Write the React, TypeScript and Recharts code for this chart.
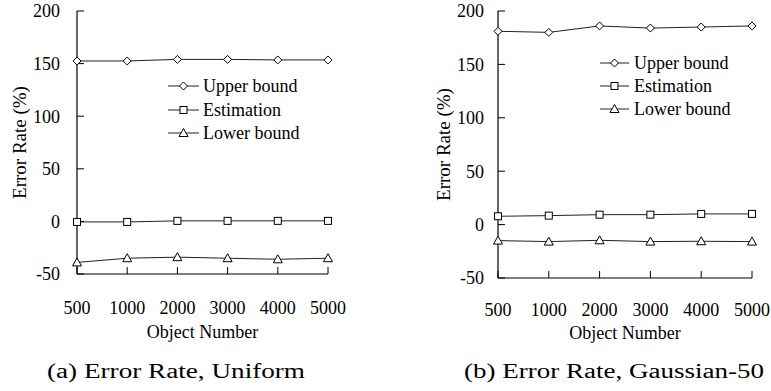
import { Legend, Line, LineChart, XAxis, YAxis } from "recharts";

const objectNumbers = ["500", "1000", "2000", "3000", "4000", "5000"];
const yTicks = [-50, 0, 50, 100, 150, 200];

const uniformUpper = [152.5, 152.5, 154, 154, 153.5, 153.5];
const uniformEstimation = [-0.5, -0.5, 0.5, 0.5, 0.5, 0.5];
const uniformLower = [-39, -35, -34, -35, -36, -35];

const gaussianUpper = [181, 180, 186, 184, 185, 186];
const gaussianEstimation = [7.8, 8.4, 9.3, 9.3, 10, 10];
const gaussianLower = [-15, -15.9, -14.7, -15.9, -15.6, -15.9];

const seriesNames = ["Upper bound", "Estimation", "Lower bound"];
const captions = ["(a) Error Rate, Uniform", "(b) Error Rate, Gaussian-50"];

const FONT = "Liberation Serif";
const INK = "#000";
const LINE = "#222";

function buildRows(upper: number[], est: number[], lower: number[]) {
  return objectNumbers.map((n, i) => ({ n, upper: upper[i], est: est[i], lower: lower[i] }));
}

type Shape = "diamond" | "square" | "triangle";

function Marker({ shape, cx, cy }: { shape: Shape; cx: number; cy: number }) {
  const p = { fill: "#fff", stroke: INK, strokeWidth: 1 };
  if (shape === "diamond") {
    return <path d={`M${cx},${cy - 4}L${cx + 4},${cy}L${cx},${cy + 4}L${cx - 4},${cy}Z`} {...p} />;
  }
  if (shape === "square") {
    return <rect x={cx - 3.5} y={cy - 3.5} width={7} height={7} {...p} />;
  }
  return <path d={`M${cx},${cy - 4.5}L${cx + 4.5},${cy + 3.5}L${cx - 4.5},${cy + 3.5}Z`} {...p} />;
}

const dotFor = (shape: Shape) => (props: any) => {
  const { cx, cy, index } = props;
  if (cx == null || cy == null) return <g key={index} />;
  return <Marker key={index} shape={shape} cx={cx} cy={cy} />;
};

const shapes: Shape[] = ["diamond", "square", "triangle"];

function LegendBox({ lineX1, lineX2, textX, rowY }: { lineX1: number; lineX2: number; textX: number; rowY: number[] }) {
  return (
    <svg width={200} height={80} style={{ overflow: "visible", display: "block" }}>
      {seriesNames.map((name, i) => (
        <g key={name}>
          <line x1={lineX1} x2={lineX2} y1={rowY[i]} y2={rowY[i]} stroke={LINE} strokeWidth={1} />
          <Marker shape={shapes[i]} cx={(lineX1 + lineX2) / 2} cy={rowY[i]} />
          <text x={textX} y={rowY[i]} dy="0.35em" fontFamily={FONT} fontSize={18} fill={INK}>
            {name}
          </text>
        </g>
      ))}
    </svg>
  );
}

type ChartProps = {
  rows: ReturnType<typeof buildRows>;
  left: number;
  plotLeft: number;
  plotRight: number;
  plotBottom: number;
  yLabelX: number;
  yTickGap: number;
  xTickGap: number;
  xLabelOffset: number;
  legendPos: { left: number; top: number };
  legendGeom: { lineX1: number; lineX2: number; textX: number; rowY: number[] };
};

const W = 385;
const H = 345;

function ErrorChart(c: ChartProps) {
  const axisStyle = { fontFamily: FONT, fontSize: 18, fill: INK };
  return (
    <div style={{ position: "absolute", left: c.left, top: 0 }}>
      <LineChart
        width={W}
        height={H}
        data={c.rows}
        margin={{ top: 11, right: W - c.plotRight, left: 0, bottom: H - c.plotBottom - 40 }}
      >
        <XAxis
          dataKey="n"
          type="category"
          scale="point"
          padding={{ left: 0, right: 0 }}
          interval={0}
          height={40}
          tickSize={-7}
          tickMargin={7 + c.xTickGap}
          axisLine={{ stroke: INK, strokeWidth: 1.2 }}
          tickLine={{ stroke: INK, strokeWidth: 1 }}
          tick={axisStyle}
          label={{
            value: "Object Number",
            position: "bottom",
            offset: c.xLabelOffset,
            fill: INK,
            fontFamily: FONT,
            fontSize: 18,
          }}
        />
        <XAxis
          xAxisId="top"
          dataKey="n"
          orientation="top"
          type="category"
          scale="point"
          padding={{ left: 0, right: 0 }}
          height={0}
          tick={false}
          tickLine={false}
          axisLine={{ stroke: INK, strokeWidth: 1.2 }}
        />
        <YAxis
          type="number"
          domain={[-50, 200]}
          ticks={yTicks}
          interval={0}
          allowDataOverflow
          width={c.plotLeft}
          tickSize={-7}
          tickMargin={7 + c.yTickGap}
          axisLine={{ stroke: INK, strokeWidth: 1.2 }}
          tickLine={{ stroke: INK, strokeWidth: 1 }}
          tick={axisStyle}
          label={{
            value: "Error Rate (%)",
            angle: -90,
            position: "insideLeft",
            offset: c.yLabelX,
            fill: INK,
            fontFamily: FONT,
            fontSize: 19,
            style: { textAnchor: "middle" },
          }}
        />
        <YAxis
          yAxisId="right"
          orientation="right"
          type="number"
          domain={[-50, 200]}
          width={0}
          tick={false}
          tickLine={false}
          axisLine={{ stroke: INK, strokeWidth: 1.2 }}
        />
        <Legend
          layout="vertical"
          align="center"
          verticalAlign="middle"
          wrapperStyle={{ left: c.legendPos.left, top: c.legendPos.top, width: 200 }}
          content={() => <LegendBox {...c.legendGeom} />}
        />
        <Line
          dataKey="upper"
          name={seriesNames[0]}
          type="linear"
          stroke={LINE}
          strokeWidth={1}
          dot={dotFor("diamond")}
          activeDot={false}
          isAnimationActive={false}
        />
        <Line
          dataKey="est"
          name={seriesNames[1]}
          type="linear"
          stroke={LINE}
          strokeWidth={1}
          dot={dotFor("square")}
          activeDot={false}
          isAnimationActive={false}
        />
        <Line
          dataKey="lower"
          name={seriesNames[2]}
          type="linear"
          stroke={LINE}
          strokeWidth={1}
          dot={dotFor("triangle")}
          activeDot={false}
          isAnimationActive={false}
        />
      </LineChart>
    </div>
  );
}

export default function App() {
  return (
    <div style={{ position: "absolute", left: 0, top: 0, width: 771, height: 391, background: "#fff" }}>
      <ErrorChart
        rows={buildRows(uniformUpper, uniformEstimation, uniformLower)}
        left={0}
        plotLeft={77}
        plotRight={328}
        plotBottom={274}
        yLabelX={19}
        yTickGap={17}
        xTickGap={27}
        xLabelOffset={11}
        legendPos={{ left: 160, top: 70 }}
        legendGeom={{ lineX1: 8, lineX2: 39, textX: 43, rowY: [16, 40, 63] }}
      />
      <ErrorChart
        rows={buildRows(gaussianUpper, gaussianEstimation, gaussianLower)}
        left={386}
        plotLeft={112}
        plotRight={366}
        plotBottom={278}
        yLabelX={57}
        yTickGap={14}
        xTickGap={25}
        xLabelOffset={8}
        legendPos={{ left: 206, top: 47 }}
        legendGeom={{ lineX1: 8, lineX2: 37, textX: 42, rowY: [16, 39, 62] }}
      />
      <svg width={771} height={51} style={{ position: "absolute", left: 0, top: 340 }}>
        <text
          x={176}
          y={38}
          textAnchor="middle"
          fontFamily={FONT}
          fontSize={20}
          fill={INK}
          textLength={258}
          lengthAdjust="spacingAndGlyphs"
        >
          {captions[0]}
        </text>
        <text
          x={614}
          y={38}
          textAnchor="middle"
          fontFamily={FONT}
          fontSize={20}
          fill={INK}
          textLength={300}
          lengthAdjust="spacingAndGlyphs"
        >
          {captions[1]}
        </text>
      </svg>
    </div>
  );
}
